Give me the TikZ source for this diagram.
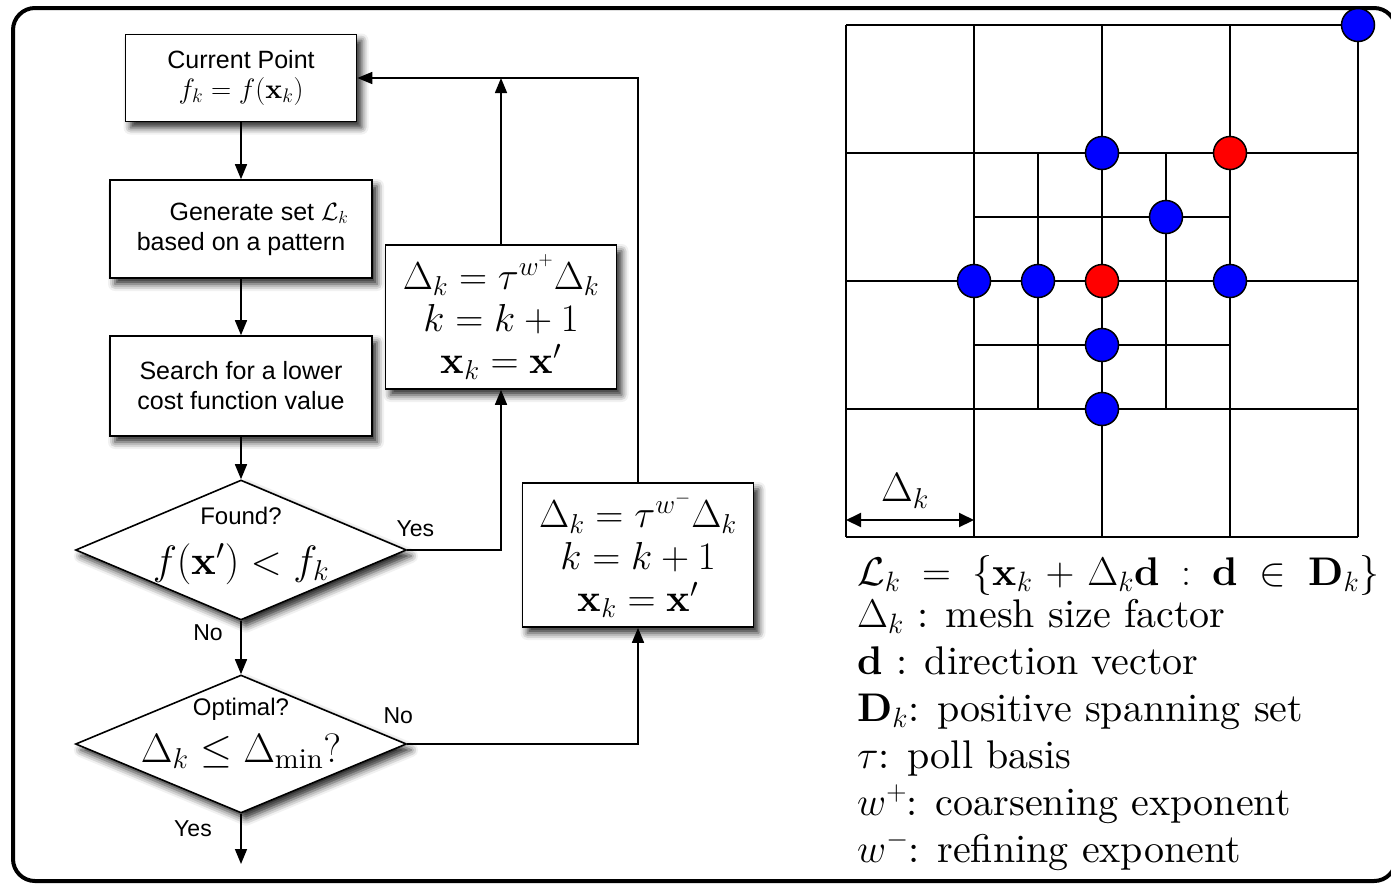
\RequirePackage{fix-cm}
\documentclass[tikz,border=0pt]{standalone}
\usepackage{amsmath,amssymb}
\usepackage{fontspec}
\setmainfont{lmroman10-regular.otf}[BoldFont=lmroman10-bold.otf,ItalicFont=lmroman10-italic.otf]
\setsansfont{Liberation Sans}
\usepackage{tikz}
\usetikzlibrary{arrows.meta,positioning,shapes.geometric,shadows.blur,calc}

\begin{document}
\begin{tikzpicture}[x=1pt,y=-1pt,
  softshadow/.style={blur shadow={shadow xshift=5pt,shadow yshift=-6pt,shadow blur radius=7pt,shadow opacity=85}},
  flowbox/.style={rectangle,draw,line width=1.6pt,fill=white,align=center,softshadow,
    font=\sffamily\fontsize{25}{30}\selectfont},
  mathbox/.style={flowbox,font=\fontsize{39}{42}\selectfont,minimum width=231pt,minimum height=144pt},
  decision/.style={diamond,draw,line width=1.6pt,fill=white,inner sep=0pt,softshadow,
    minimum width=331pt,minimum height=140pt},
  qtext/.style={inner sep=0pt,font=\sffamily\fontsize{24}{28}\selectfont},
  mtext/.style={inner sep=0pt,font=\fontsize{41}{44}\selectfont},
  lbl/.style={inner sep=0pt,font=\sffamily\fontsize{23}{26}\selectfont},
  arrow/.style={-{Triangle[length=15pt,width=12pt]},line width=1.5pt},
  meshline/.style={line width=2pt},
  meshdot/.style={circle,draw,line width=1.5pt,minimum size=33pt,inner sep=0pt},
  legend/.style={align=left,inner sep=0pt,font=\fontsize{40}{47}\selectfont}]
\useasboundingbox (0,0) rectangle (1391,884);
\draw[line width=4pt,rounded corners=22pt] (13,8) rectangle (1396,881);

% flowchart
\node[flowbox,minimum width=231pt,minimum height=87pt] (cur) at (241,78) {Current Point\\{\fontsize{28}{30}\selectfont$f_k=f(\mathbf{x}_k)$}};
\node[flowbox,minimum width=262pt,minimum height=98pt] (gen) at (241,229) {\hspace*{36pt}Generate set $\mathcal{L}_k$\\based on a pattern};
\node[flowbox,minimum width=262pt,minimum height=100pt] (search) at (241,386) {Search for a lower\\cost function value};
\node[decision] (found) at (241,550) {};
\node[qtext] (foundq) at (241,516) {Found?};
\node[mtext] (foundm) at (241,564) {$f(\mathbf{x}')<f_k$};
\node[decision,minimum height=138pt] (opt) at (241,744) {};
\node[qtext] (optq) at (241,709) {Optimal?};
\node[mtext] (optm) at (241,751) {$\Delta_k\le\Delta_{\min}?$};
\node[mathbox] (grow) at (501,317) {$\Delta_k=\tau^{w^+}\Delta_k$\\$k=k+1$\\$\mathbf{x}_k=\mathbf{x}'$};
\node[mathbox] (shrink) at (638,555) {$\Delta_k=\tau^{w^-}\Delta_k$\\$k=k+1$\\$\mathbf{x}_k=\mathbf{x}'$};
\coordinate (done) at (241,864);

\node[lbl] (yes1) at ($(found.east)+(8,-21)$) {Yes};
\node[lbl] (no1) at ($(found.south)+(-33,12)$) {No};
\node[lbl] (no2) at ($(opt.east)+(-9,-28)$) {No};
\node[lbl] (yes2) at ($(opt.south)+(-48,15)$) {Yes};

\draw[arrow] (cur) -- (gen);
\draw[arrow] (gen) -- (search);
\draw[arrow] (search) -- (found);
\draw[arrow] (found) -- (opt);
\draw[arrow] (found.east) -| (grow.south);
\draw[arrow] (grow.north) -- (grow.north |- cur.east);
\draw[arrow] (shrink.north) |- (cur.east);
\draw[arrow] (opt.east) -| (shrink.south);
\draw[arrow] (opt.south) -- (done);

% mesh
\foreach \i in {0,...,4} {
  \draw[meshline] (846+128*\i,25) -- (846+128*\i,537);
  \draw[meshline] (846,25+128*\i) -- (1358,25+128*\i);
}
\draw[meshline] (1038,153) -- (1038,409);
\draw[meshline] (1166,153) -- (1166,409);
\draw[meshline] (974,217) -- (1230,217);
\draw[meshline] (974,345) -- (1230,345);
\foreach \x/\y/\c in {1358/25/blue,1102/153/blue,1230/153/red,1166/217/blue,
  974/281/blue,1038/281/blue,1102/281/red,1230/281/blue,1102/345/blue,1102/409/blue}
  \node[meshdot,fill=\c] (p-\x-\y) at (\x,\y) {};
\coordinate (ml) at (846,520);
\coordinate (mr) at (974,520);
\draw[{Triangle[length=15pt,width=14pt]}-{Triangle[length=15pt,width=14pt]},line width=2pt] (ml) -- (mr);
\node[mtext] (dk) at (905,491) {$\Delta_k$};

\node[legend,anchor=north west] (defs) at (857,555) {%
  \hbox to 522pt{$\mathcal{L}_k=\{\mathbf{x}_k+\Delta_k\mathbf{d}:\mathbf{d}\in\mathbf{D}_k\}$}\\[-5pt]
  $\Delta_k$ : mesh size factor\\
  $\mathbf{d}$ : direction vector\\
  $\mathbf{D}_k$: positive spanning set\\
  $\tau$: poll basis\\
  $w^+$: coarsening exponent\\
  $w^-$: refining exponent};
\end{tikzpicture}
\end{document}
